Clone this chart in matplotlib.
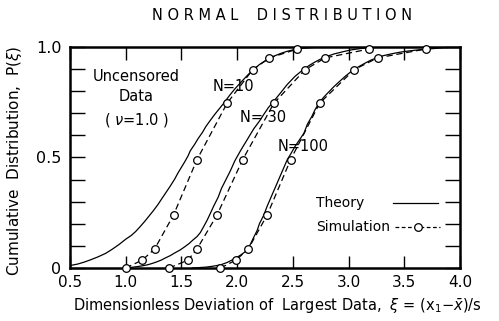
import numpy as np
import matplotlib.pyplot as plt

# simulation points (circles)
sim_x_10 = [1.00, 1.15, 1.26, 1.43, 1.64, 1.91, 2.14, 2.29, 2.54]
sim_x_30 = [1.39, 1.56, 1.64, 1.82, 2.05, 2.33, 2.61, 2.79, 3.18]
sim_x_100 = [1.85, 1.99, 2.10, 2.27, 2.48, 2.74, 3.05, 3.26, 3.69]
sim_p = [0.0, 0.036, 0.086, 0.24, 0.49, 0.745, 0.897, 0.95, 0.99]

# theory curves (solid)
th_x_10 = [0.5, 0.57, 0.63, 0.69, 0.75, 0.82, 0.88, 0.94, 1.0, 1.05, 1.09, 1.13, 1.17,
           1.21, 1.25, 1.29, 1.32, 1.36, 1.40, 1.44, 1.47, 1.50, 1.53, 1.56, 1.58,
           1.62, 1.65, 1.69, 1.72, 1.76, 1.80, 1.84, 1.88, 1.93, 1.98, 2.04, 2.1,
           2.15, 2.2, 2.25, 2.29, 2.35, 2.4, 2.45, 2.5, 2.55, 2.6, 2.65, 2.7, 2.78, 2.85]
th_p_10 = [0.011, 0.018, 0.027, 0.038, 0.05, 0.066, 0.085, 0.106, 0.13, 0.147, 0.165, 0.187, 0.21,
           0.235, 0.26, 0.287, 0.31, 0.34, 0.37, 0.402, 0.43, 0.455, 0.48, 0.507, 0.53,
           0.56, 0.585, 0.614, 0.64, 0.668, 0.695, 0.72, 0.745, 0.779, 0.81, 0.843, 0.875,
           0.898, 0.92, 0.936, 0.95, 0.962, 0.972, 0.98, 0.986, 0.991, 0.994, 0.996, 0.998, 0.999, 1.0]
th_x_30 = [1.0, 1.05, 1.1, 1.15, 1.2, 1.24, 1.28, 1.32, 1.35, 1.40, 1.44, 1.49, 1.53, 1.57, 1.60,
           1.64, 1.67, 1.70, 1.73, 1.76, 1.79, 1.83, 1.86, 1.90, 1.94, 1.98,
           2.03, 2.06, 2.09, 2.12, 2.15, 2.20, 2.24, 2.28, 2.33, 2.39, 2.45, 2.52, 2.6, 2.65,
           2.7, 2.75, 2.8, 2.87, 2.95, 3.02, 3.1, 3.18, 3.25, 3.32, 3.4]
th_p_30 = [0.0, 0.003, 0.006, 0.01, 0.015, 0.021, 0.028, 0.036, 0.044, 0.056, 0.068, 0.082, 0.096, 0.111, 0.125,
           0.142, 0.16, 0.187, 0.215, 0.247, 0.28, 0.32, 0.36, 0.40, 0.44, 0.485,
           0.53, 0.555, 0.58, 0.605, 0.63, 0.664, 0.695, 0.725, 0.755, 0.792, 0.83, 0.867, 0.9, 0.917,
           0.932, 0.945, 0.956, 0.968, 0.978, 0.986, 0.992, 0.996, 0.998, 0.999, 1.0]
th_x_100 = [1.6, 1.66, 1.72, 1.78, 1.85, 1.91, 1.97, 2.03, 2.09, 2.12, 2.15, 2.18, 2.2, 2.24, 2.27,
            2.30, 2.33, 2.36, 2.39, 2.42, 2.45, 2.48, 2.52, 2.56, 2.6, 2.63, 2.67, 2.70, 2.74,
            2.78, 2.82, 2.86, 2.9, 2.97, 3.04, 3.1, 3.15, 3.2, 3.25, 3.31, 3.38, 3.44, 3.5,
            3.6, 3.7, 3.78, 3.85, 3.92, 3.98]
th_p_100 = [0.0, 0.002, 0.004, 0.008, 0.014, 0.025, 0.04, 0.058, 0.08, 0.108, 0.14, 0.17, 0.2, 0.24, 0.28,
            0.315, 0.35, 0.385, 0.42, 0.455, 0.49, 0.515, 0.55, 0.58, 0.61, 0.65, 0.685, 0.717, 0.75,
            0.774, 0.795, 0.816, 0.835, 0.867, 0.895, 0.913, 0.927, 0.94, 0.95, 0.96, 0.968, 0.974, 0.979,
            0.985, 0.99, 0.993, 0.996, 0.998, 1.0]

x_ticks = [0.5, 1.0, 1.5, 2.0, 2.5, 3.0, 3.5, 4.0]
x_tick_labels = ['0.5', '1.0', '1.5', '2.0', '2.5', '3.0', '3.5', '4.0']
y_ticks = [0, 0.5, 1.0]
y_tick_labels = ['0', '0.5', '1.0']

fig = plt.figure(figsize=(4.99, 3.21), dpi=100)
ax = fig.add_axes([0.140, 0.165, 0.782, 0.689])

for tx, tp in [(th_x_10, th_p_10), (th_x_30, th_p_30), (th_x_100, th_p_100)]:
    ax.plot(tx, tp, color='black', lw=0.9)

for sx in [sim_x_10, sim_x_30, sim_x_100]:
    ax.plot(sx, sim_p, color='black', lw=0.9, ls=(0, (5, 3)),
            marker='o', ms=5.5, mfc='white', mec='black', mew=0.9, clip_on=False, zorder=3)

ax.set_xlim(0.5, 4.0)
ax.set_ylim(0, 1.0)
ax.set_xticks(x_ticks)
ax.set_xticklabels(x_tick_labels, fontsize=11)
ax.set_yticks(y_ticks)
ax.set_yticklabels(y_tick_labels, fontsize=11.5)
ax.set_yticks(np.arange(0, 1.01, 0.1), minor=True)
ax.tick_params(axis='x', direction='in', length=9, width=1, top=True, pad=5)
ax.tick_params(axis='y', which='both', direction='in', length=11, width=1, right=True, pad=6)
for s in ax.spines.values():
    s.set_linewidth(1.8)

fs = 10.5
ax.text(0.17, 0.865, 'Uncensored', transform=ax.transAxes, ha='center', va='center', fontsize=fs)
ax.text(0.17, 0.775, 'Data', transform=ax.transAxes, ha='center', va='center', fontsize=fs)
ax.text(0.17, 0.67, '( $\\nu$=1.0 )', transform=ax.transAxes, ha='center', va='center', fontsize=fs)
ax.text(1.78, 0.82, 'N=10', ha='left', va='center', fontsize=fs)
ax.text(2.03, 0.68, 'N= 30', ha='left', va='center', fontsize=fs)
ax.text(2.36, 0.55, 'N=100', ha='left', va='center', fontsize=fs)

# legend drawn by hand
ax.text(2.71, 0.294, 'Theory', ha='left', va='center', fontsize=10)
ax.text(2.71, 0.186, 'Simulation', ha='left', va='center', fontsize=10)
ax.plot([3.40, 3.80], [0.294, 0.294], color='black', lw=0.9)
ax.plot([3.42, 3.82], [0.186, 0.186], color='black', lw=0.9, ls=(0, (3, 2)))
ax.plot([3.62], [0.186], 'o', ms=5.5, mfc='white', mec='black', mew=0.9)

fig.text(0.566, 0.953, 'N O R M A L    D I S T R I B U T I O N', ha='center', va='center', fontsize=10.5)
fig.text(0.03, 0.5, 'Cumulative  Distribution,  P($\\xi$)', rotation=90, ha='center', va='center', fontsize=11)
fig.text(0.556, 0.045, 'Dimensionless Deviation of  Largest Data,  $\\xi$ = (x$_1$$-\\bar{x}$)/s',
         ha='center', va='center', fontsize=10.5)

fig.savefig('out.png', dpi=100)
